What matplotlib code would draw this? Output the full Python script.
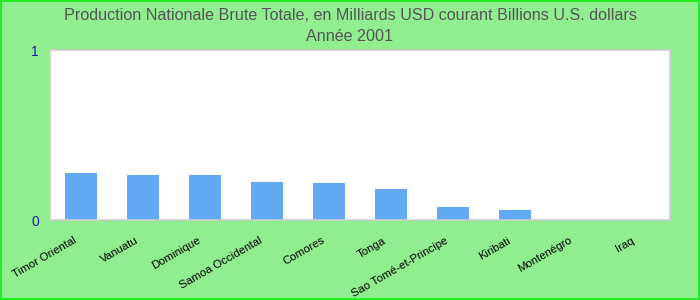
import matplotlib
matplotlib.use("Agg")
import matplotlib.pyplot as plt
import matplotlib.transforms as mtransforms
from matplotlib.patches import Rectangle

# data
pays = ["Timor Oriental", "Vanuatu", "Dominique", "Samoa Occidental", "Comores",
        "Tonga", "Sao Tomé-et-Principe", "Kiribati", "Montenégro", "Iraq"]
valeurs = [0.276, 0.265, 0.265, 0.224, 0.218, 0.182, 0.076, 0.059, 0, 0]
y_ticks = [0, 1]

titre = ("Production Nationale Brute Totale, en Milliards USD courant Billions U.S. dollars\n"
         "Année 2001")

plt.rcParams['font.family'] = ['Liberation Sans', 'DejaVu Sans']

fig = plt.figure(figsize=(7, 3), dpi=100, facecolor="#90EE90")
ax = fig.add_axes([50 / 700, 80 / 300, 620 / 700, 170 / 300])
ax.set_facecolor("white")

x = list(range(len(pays)))
ax.bar(x, valeurs, width=0.52, color="#62A9F4", zorder=2)

ax.set_xlim(-0.5, len(pays) - 0.5)
ax.set_ylim(0, 1)
ax.set_yticks(y_ticks)
ax.set_yticklabels([str(t) for t in y_ticks], color="#1a1aa6", fontsize=10)
ax.set_xticks(x)
ax.set_xticklabels(pays, rotation=30, ha="right", rotation_mode="anchor", fontsize=8.2)
ax.tick_params(axis="both", length=0)
ax.tick_params(axis="y", pad=8)
ax.tick_params(axis="x", pad=11)

# nudge the x labels a bit to the left
decal = mtransforms.ScaledTranslation(-8 / 100, 0, fig.dpi_scale_trans)
for lab in ax.get_xticklabels():
    lab.set_transform(lab.get_transform() + decal)

for s in ax.spines.values():
    s.set_color("#cccccc")
    s.set_linewidth(1.2)

fig.text(0.5, 0.975, titre, ha="center", va="top", fontsize=11.6, color="#555555",
         linespacing=1.55)

# green frame around the whole chart
fig.patches.append(Rectangle((0.001, 0.002), 0.997, 0.995, transform=fig.transFigure,
                             fill=False, edgecolor="#22ee22", linewidth=1.5))

fig.savefig("out.png", dpi=100, facecolor=fig.get_facecolor())
